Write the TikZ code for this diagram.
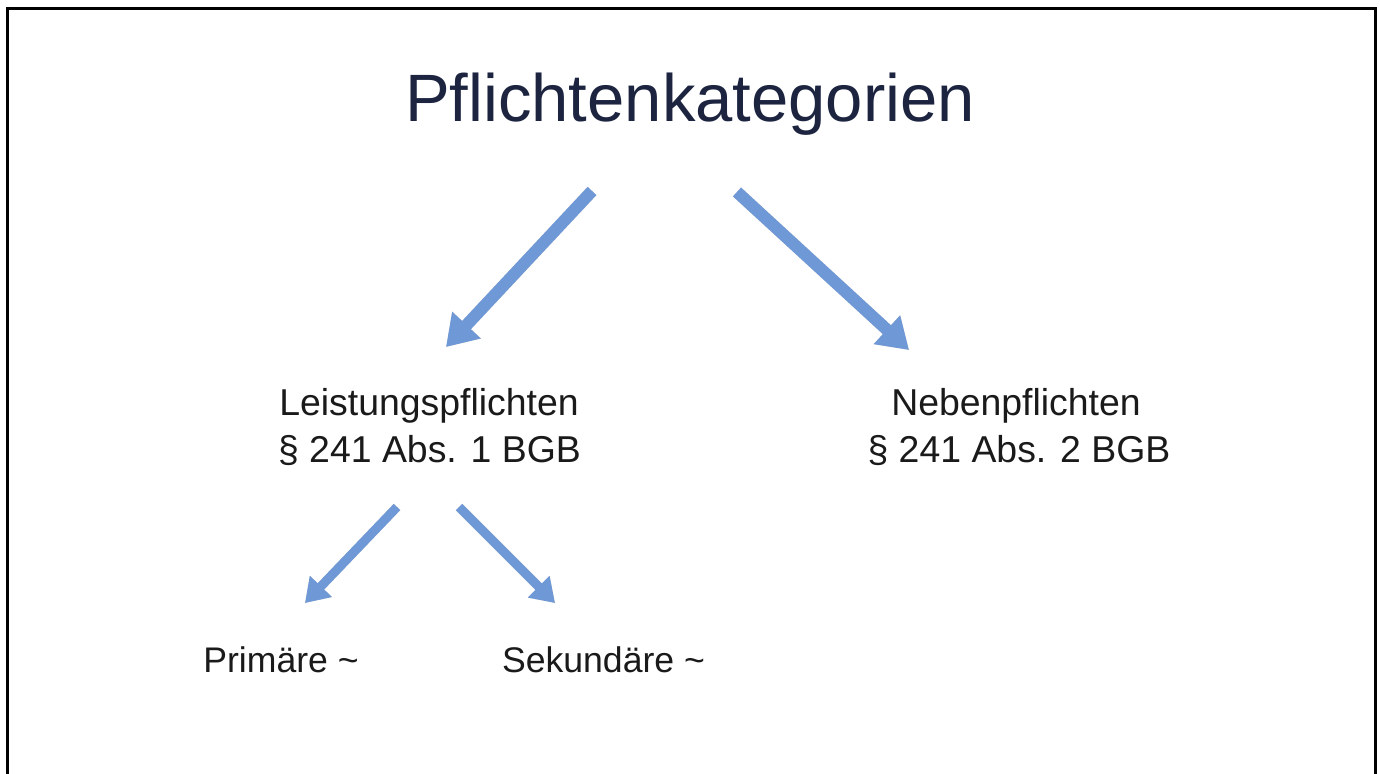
\documentclass[tikz,border=0pt]{standalone}
\usepackage{fontspec}
\setmainfont{Liberation Sans}
\usetikzlibrary{arrows.meta}
\definecolor{arrowblue}{RGB}{111,152,214}
\definecolor{titlenavy}{RGB}{28,36,64}
\definecolor{textdark}{RGB}{26,26,26}
\definecolor{shadowgray}{RGB}{205,205,205}
\begin{document}
\begin{tikzpicture}[x=0.5pt,y=-0.5pt,
  titletext/.style={font=\fontsize{33.5}{40}\selectfont, text=titlenavy, anchor=base, inner sep=0pt},
  bodytext/.style={font=\fontsize{18.7}{22}\selectfont, text=textdark, anchor=base, inner sep=0pt},
  subtext/.style={font=\fontsize{17.8}{22}\selectfont, text=textdark, anchor=base, inner sep=0pt},
  bigarrow/.style={draw=arrowblue, fill=arrowblue, line width=6pt, -{Triangle[length=15pt,width=18.5pt]}},
  smallarrow/.style={draw=arrowblue, fill=arrowblue, line width=4.5pt, -{Triangle[length=11.5pt,width=14.5pt]}},
  frameline/.style={draw=black, line width=1.5pt}
]
\fill[white] (0,0) rectangle (1380,774);
\useasboundingbox (0,0) rectangle (1380,774);
\draw[frameline] (7,780) -- (7,9) -- (1375,9) -- (1375,780);

\node[titletext] (title) at (690,122) {Pflichtenkategorien};
\node[bodytext] (leist) at (429,416) {Leistungspflichten};
\node[bodytext] (leistpar) at (429.5,463) {§ 241 Abs. 1 BGB};
\node[bodytext] (neben) at (1016,416) {Nebenpflichten};
\node[bodytext] (nebenpar) at (1019,463) {§ 241 Abs. 2 BGB};
\node[subtext] (prim) at (281,672) {Primäre \textasciitilde};
\node[subtext] (sek) at (603.5,672) {Sekundäre \textasciitilde};

\coordinate (a1s) at (592,191);
\coordinate (a1e) at (446,347);
\coordinate (a2s) at (737,192);
\coordinate (a2e) at (909,350);
\coordinate (a3s) at (397,507);
\coordinate (a3e) at (305,603);
\coordinate (a4s) at (459,507);
\coordinate (a4e) at (555,603);

\begin{scope}[shift={(2,3)}]
\draw[bigarrow, draw=shadowgray, fill=shadowgray] (a1s) -- (a1e);
\draw[bigarrow, draw=shadowgray, fill=shadowgray] (a2s) -- (a2e);
\draw[smallarrow, draw=shadowgray, fill=shadowgray] (a3s) -- (a3e);
\draw[smallarrow, draw=shadowgray, fill=shadowgray] (a4s) -- (a4e);
\end{scope}
\draw[bigarrow] (a1s) -- (a1e);
\draw[bigarrow] (a2s) -- (a2e);
\draw[smallarrow] (a3s) -- (a3e);
\draw[smallarrow] (a4s) -- (a4e);
\end{tikzpicture}
\end{document}
